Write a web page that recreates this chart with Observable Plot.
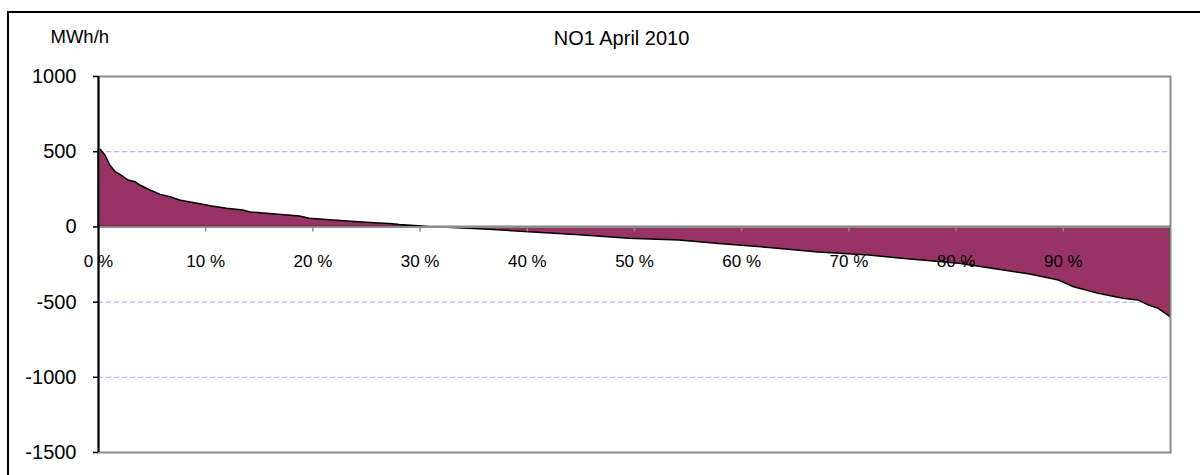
<!DOCTYPE html>
<html>
<head>
<meta charset="utf-8">
<script src="https://cdn.jsdelivr.net/npm/d3@7"></script>
<script src="https://cdn.jsdelivr.net/npm/@observablehq/plot@0.6"></script>
<style>
  html, body { margin: 0; padding: 0; background: #fff; }
  #wrap { position: relative; width: 1200px; height: 475px; overflow: hidden; }
  #border { position: absolute; left: 7px; top: 11px; width: 1300px; height: 600px;
            border-left: 2px solid #000; border-top: 2px solid #000; pointer-events: none; }
</style>
</head>
<body>
<div id="wrap"><div id="border"></div></div>
<script>
// Duration curve: share of hours (%) vs. value (MWh/h)
const pct = [0, 0.2, 0.65, 1.1, 1.6, 2.05, 2.8, 3.45, 3.9, 4.85, 5.8, 6.7, 7.6, 8.6, 9.5, 10.6, 12.0, 13.5, 14.2, 15.7, 18.8, 19.7, 21.9, 25.0, 27.5, 28.1, 30.9, 32.5, 36.0, 40.2, 44.9, 49.5, 54.2, 57.9, 62.6, 67.2, 71.9, 74.7, 80.3, 84.0, 86.8, 89.6, 91.0, 93.3, 95.6, 97.0, 98.0, 98.9, 100];
const values = [505, 513, 475, 408, 364, 346, 308, 297, 275, 242, 213, 198, 175, 162, 150, 135, 120, 109, 96, 87, 69, 54, 42, 27, 18, 13, 0, -5, -18, -35, -55, -78, -90, -113, -140, -170, -190, -210, -245, -285, -315, -356, -401, -445, -478, -489, -523, -545, -600];
const xTicks = [0, 10, 20, 30, 40, 50, 60, 70, 80, 90];
const yTicks = [1000, 500, 0, -500, -1000, -1500];
const gridValues = [500, -500, -1000];
const title = "NO1 April 2010";
const yUnit = "MWh/h";

const data = pct.map((p, i) => ({p, v: values[i]}));
const font = "'Liberation Sans', Arial, sans-serif";

const chart = Plot.plot({
  width: 1200,
  height: 475,
  marginLeft: 98,
  marginRight: 30,
  marginTop: 76,
  marginBottom: 23,
  style: {fontFamily: font, background: "transparent", overflow: "visible"},
  x: {domain: [0, 100]},
  y: {domain: [-1500, 1000]},
  marks: [
    Plot.ruleY(gridValues, {stroke: "#b8b8ff", strokeWidth: 1.3, strokeDasharray: "5,3"}),
    Plot.areaY(data, {x: "p", y: "v", fill: "#993366", stroke: "#000", strokeWidth: 1.5}),
    Plot.frame({stroke: "#8c8c8c", strokeWidth: 2}),
    Plot.ruleY([0], {stroke: "#8c8c8c", strokeWidth: 2}),
    Plot.ruleX(xTicks, {x: d => d, y1: 0, y2: 0, insetBottom: -5, stroke: "#8c8c8c", strokeWidth: 1.5}),
    Plot.text(xTicks, {x: d => d, y: 0, dy: 35, text: d => `${d} %`, fontSize: 17, fill: "#000", textAnchor: "middle"}),
    Plot.ruleX([0], {stroke: "#000", strokeWidth: 2}),
    Plot.axisY({ticks: yTicks, tickSize: 5, tickPadding: 17, fontSize: 20, stroke: "#000", strokeWidth: 1.5, tickFormat: d => String(d), label: null}),
    Plot.axisX({ticks: [], label: null, tickSize: 0}),
    Plot.text([title], {frameAnchor: "top", dx: -13, dy: -38, fontSize: 20, fill: "#000", lineAnchor: "middle"}),
    Plot.text([yUnit], {frameAnchor: "top-left", dx: -48, dy: -39, fontSize: 18.5, fill: "#000", textAnchor: "start", lineAnchor: "middle"})
  ]
});
document.getElementById("wrap").appendChild(chart);
chart.style.position = "absolute";
chart.style.left = "0px";
chart.style.top = "0px";
</script>
</body>
</html>
